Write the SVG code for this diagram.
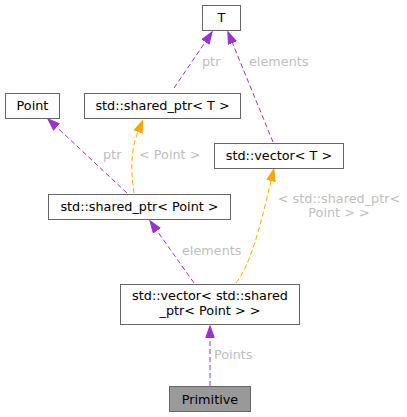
<svg xmlns="http://www.w3.org/2000/svg" width="407" height="417" viewBox="0 0 407 417">
<style>
.box{fill:#fff;stroke:#666;stroke-width:1}
.prim{fill:#999;stroke:#666;stroke-width:1}
.t{font-family:"DejaVu Sans",sans-serif;font-size:12.8px;fill:#000;text-anchor:middle}
.l{font-family:"DejaVu Sans",sans-serif;font-size:12.8px;fill:#bebebe}
.p{fill:none;stroke:#9a32cd;stroke-width:1;stroke-dasharray:5,3}
.o{fill:none;stroke:#ffa500;stroke-width:1;stroke-dasharray:5,3}
</style>
<defs>
<marker id="ap" markerUnits="userSpaceOnUse" markerWidth="13" markerHeight="10" refX="0" refY="5" orient="auto" viewBox="0 0 13 10"><path d="M0.5,0.8 L12.3,5 L0.5,9.2 z" fill="#9a32cd" stroke="#9a32cd"/></marker>
<marker id="ao" markerUnits="userSpaceOnUse" markerWidth="13" markerHeight="10" refX="0" refY="5" orient="auto" viewBox="0 0 13 10"><path d="M0.5,0.8 L12.3,5 L0.5,9.2 z" fill="#ffa500" stroke="#ffa500"/></marker>
</defs>
<g id="edges">
<path class="p" d="M174,88 L205.3,42" marker-end="url(#ap)"/>
<text class="l" x="202" y="65.5">ptr</text>
<path class="p" d="M273,142 L232.5,43.1" marker-end="url(#ap)"/>
<text class="l" x="249" y="65.5">elements</text>
<path class="p" d="M127,193 L56.8,127.2" marker-end="url(#ap)"/>
<text class="l" x="103" y="158.5">ptr</text>
<path class="o" d="M134,193 C131,172 130,152 138,132" marker-end="url(#ao)"/>
<text class="l" x="139" y="158.5">&lt; Point &gt;</text>
<path class="p" d="M194,283 L157,230.8" marker-end="url(#ap)"/>
<text class="l" x="182" y="255">elements</text>
<path class="o" d="M236,283 C250,265 259,232 271,181" marker-end="url(#ao)"/>
<text class="l" x="339" y="202.5" text-anchor="middle">&lt; std::shared_ptr&lt;</text>
<text class="l" x="339" y="216.5" text-anchor="middle">Point &gt; &gt;</text>
<path class="p" d="M210,386 L210,338" marker-end="url(#ap)"/>
<text class="l" x="214" y="358.5">Points</text>
</g>
<g id="T"><rect class="box" x="202.5" y="5.5" width="38" height="25"/><text class="t" x="221.5" y="22">T</text></g>
<g id="Point"><rect class="box" x="5.5" y="93.5" width="54" height="25"/><text class="t" x="32.5" y="110">Point</text></g>
<g id="shared_ptr_T"><rect class="box" x="84.5" y="93.5" width="156" height="25"/><text class="t" x="162.5" y="110">std::shared_ptr&lt; T &gt;</text></g>
<g id="vector_T"><rect class="box" x="214.5" y="143.5" width="129" height="25"/><text class="t" x="279" y="160">std::vector&lt; T &gt;</text></g>
<g id="shared_ptr_Point"><rect class="box" x="48.5" y="194.5" width="182" height="25"/><text class="t" x="139.5" y="211">std::shared_ptr&lt; Point &gt;</text></g>
<g id="vector_sp_Point"><rect class="box" x="120.5" y="284.5" width="179" height="40"/><text class="t" x="210" y="299.5">std::vector&lt; std::shared</text><text class="t" x="210" y="314.5">_ptr&lt; Point &gt; &gt;</text></g>
<g id="Primitive"><rect class="prim" x="169.5" y="386.5" width="81" height="25"/><text class="t" x="210" y="403.5">Primitive</text></g>
</svg>
